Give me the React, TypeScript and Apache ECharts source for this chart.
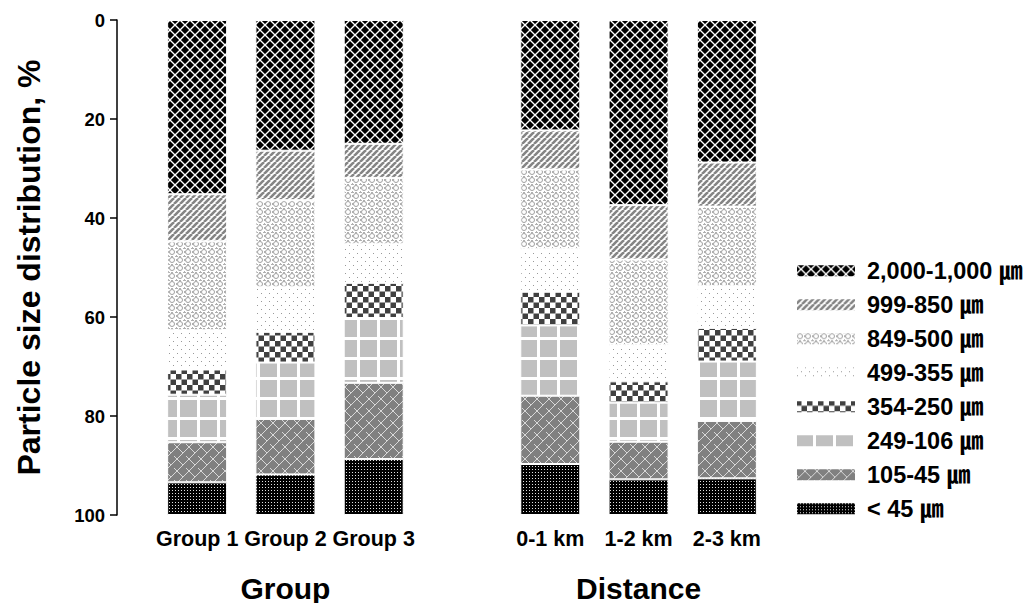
import React, { useEffect, useRef } from "react";
import * as echarts from "echarts";

const categories = ["Group 1", "Group 2", "Group 3", "", "0-1 km", "1-2 km", "2-3 km"];
const groupLabels = ["", "Group", "", "", "", "Distance", ""];
const sizeClasses = [
  "2,000-1,000 ㎛",
  "999-850 ㎛",
  "849-500 ㎛",
  "499-355 ㎛",
  "354-250 ㎛",
  "249-106 ㎛",
  "105-45 ㎛",
  "< 45 ㎛",
];
const s2000_1000 = [35.2, 26.4, 25.0, null, 22.3, 37.4, 28.8];
const s999_850 = [9.5, 10.0, 6.9, null, 7.9, 11.0, 8.9];
const s849_500 = [18.0, 17.6, 13.4, null, 16.1, 17.3, 16.1];
const s499_355 = [7.9, 9.0, 7.8, null, 8.6, 7.3, 8.4];
const s354_250 = [5.1, 6.2, 7.1, null, 6.8, 4.3, 6.8];
const s249_106 = [9.6, 11.4, 13.1, null, 14.2, 7.9, 12.0];
const s105_45 = [8.1, 11.2, 15.4, null, 13.8, 7.6, 11.6];
const sLt45 = [6.6, 8.2, 11.3, null, 10.3, 7.2, 7.4];
const seriesValues = [s2000_1000, s999_850, s849_500, s499_355, s354_250, s249_106, s105_45, sLt45];
const yTicks = { min: 0, max: 100, interval: 20 };

const FONT = 'Arial, "Liberation Sans", "Noto Sans CJK KR", sans-serif';

function makeCanvas(w: number, h: number, draw: (ctx: CanvasRenderingContext2D) => void) {
  const c = document.createElement("canvas");
  c.width = w;
  c.height = h;
  const ctx = c.getContext("2d")!;
  draw(ctx);
  return c;
}

function buildPatterns() {
  const p1 = makeCanvas(10, 10, (ctx) => {
    ctx.fillStyle = "#000";
    ctx.fillRect(0, 0, 10, 10);
    ctx.strokeStyle = "#fff";
    ctx.lineWidth = 1.3;
    for (const o of [-10, 0, 10]) {
      ctx.beginPath();
      ctx.moveTo(o, 0);
      ctx.lineTo(o + 10, 10);
      ctx.stroke();
      ctx.beginPath();
      ctx.moveTo(o + 10, 0);
      ctx.lineTo(o, 10);
      ctx.stroke();
    }
  });
  const p2 = makeCanvas(6, 6, (ctx) => {
    ctx.fillStyle = "#fff";
    ctx.fillRect(0, 0, 6, 6);
    ctx.strokeStyle = "#858585";
    ctx.lineWidth = 2.6;
    for (const o of [-6, 0, 6]) {
      ctx.beginPath();
      ctx.moveTo(o, 6);
      ctx.lineTo(o + 6, 0);
      ctx.stroke();
    }
  });
  const p3 = makeCanvas(8, 8, (ctx) => {
    ctx.fillStyle = "#fff";
    ctx.fillRect(0, 0, 8, 8);
    ctx.strokeStyle = "#a0a0a0";
    ctx.lineWidth = 1;
    ctx.beginPath();
    ctx.arc(4, 4, 2.5, 0, Math.PI * 2);
    ctx.stroke();
    ctx.fillStyle = "#b0b0b0";
    ctx.fillRect(0, 0, 2, 1);
    ctx.fillRect(7, 0, 1, 1);
    ctx.fillRect(0, 7, 1, 1);
    ctx.fillRect(3, 0, 2, 1);
    ctx.fillRect(0, 3, 1, 2);
  });
  const p4 = makeCanvas(8, 8, (ctx) => {
    ctx.fillStyle = "#fff";
    ctx.fillRect(0, 0, 8, 8);
    ctx.fillStyle = "#999";
    ctx.fillRect(1, 1, 1, 1);
    ctx.fillRect(5, 5, 1, 1);
  });
  const p5 = makeCanvas(11, 11, (ctx) => {
    ctx.fillStyle = "#fff";
    ctx.fillRect(0, 0, 11, 11);
    ctx.fillStyle = "#404040";
    ctx.fillRect(0, 0, 5.5, 5.5);
    ctx.fillRect(5.5, 5.5, 5.5, 5.5);
  });
  const p6 = makeCanvas(20, 20, (ctx) => {
    ctx.fillStyle = "#fff";
    ctx.fillRect(0, 0, 20, 20);
    ctx.fillStyle = "#c0c0c0";
    ctx.fillRect(0, 0, 17, 17);
  });
  const p7 = makeCanvas(12, 12, (ctx) => {
    ctx.fillStyle = "#808080";
    ctx.fillRect(0, 0, 12, 12);
    ctx.strokeStyle = "#d8d8d8";
    ctx.lineWidth = 1;
    for (const o of [-12, 0, 12]) {
      ctx.beginPath();
      ctx.moveTo(o, 12);
      ctx.lineTo(o + 12, 0);
      ctx.stroke();
    }
    ctx.beginPath();
    ctx.moveTo(3, 9);
    ctx.lineTo(0, 6);
    ctx.stroke();
    ctx.beginPath();
    ctx.moveTo(9, 3);
    ctx.lineTo(6, 0);
    ctx.stroke();
    ctx.beginPath();
    ctx.moveTo(12, 6);
    ctx.lineTo(9, 3);
    ctx.stroke();
  });
  const p8 = makeCanvas(3, 3, (ctx) => {
    ctx.fillStyle = "#000";
    ctx.fillRect(0, 0, 3, 3);
    ctx.fillStyle = "#e0e0e0";
    ctx.fillRect(1, 1, 1, 1);
  });
  return [p1, p2, p3, p4, p5, p6, p7, p8];
}

export default function App() {
  const ref = useRef<HTMLDivElement>(null);
  useEffect(() => {
    if (!ref.current) return;
    const chart = echarts.init(ref.current, null, { renderer: "svg" });
    const patterns = buildPatterns();
    const series = sizeClasses.map((name, i) => ({
      name,
      type: "bar",
      stack: "total",
      barWidth: 60,
      xAxisIndex: 0,
      data: seriesValues[i],
      itemStyle: {
        color: { image: patterns[i], repeat: "repeat" },
        borderColor: "#fff",
        borderWidth: 1,
      },
    }));
    chart.setOption({
      animation: false,
      backgroundColor: "#fff",
      textStyle: { fontFamily: FONT },
      grid: { left: 153, right: 256, top: 20, bottom: 86, containLabel: false },
      legend: {
        orient: "vertical",
        left: 790,
        top: 254,
        itemWidth: 60,
        itemHeight: 13,
        itemGap: 10.5,
        icon: "rect",
        selectedMode: false,
        textStyle: { fontSize: 23.5, fontWeight: "bold", color: "#000", fontFamily: FONT, padding: [0, 0, 0, 6] },
        data: sizeClasses,
      },
      xAxis: [
        {
          type: "category",
          data: categories,
          axisLine: { show: false },
          axisTick: { show: false },
          axisLabel: { interval: 0, fontSize: 21.5, fontWeight: "bold", color: "#000", margin: 13, fontFamily: FONT },
        },
        {
          type: "category",
          data: groupLabels,
          position: "bottom",
          offset: 44,
          axisLine: { show: false },
          axisTick: { show: false },
          axisLabel: { interval: 0, fontSize: 30, fontWeight: "bold", color: "#000", margin: 14, fontFamily: FONT },
        },
      ],
      yAxis: {
        type: "value",
        inverse: true,
        min: yTicks.min,
        max: yTicks.max,
        interval: yTicks.interval,
        offset: 36,
        name: "Particle size distribution, %",
        nameLocation: "middle",
        nameRotate: 90,
        nameGap: 72,
        nameTextStyle: { fontSize: 32, fontWeight: "bold", color: "#000", fontFamily: FONT },
        axisLine: { show: true, lineStyle: { color: "#000", width: 1.5 } },
        axisTick: { show: true, length: 7, lineStyle: { color: "#000", width: 1.5 } },
        splitLine: { show: false },
        axisLabel: { fontSize: 18.5, fontWeight: "bold", color: "#000", margin: 12, fontFamily: FONT },
      },
      series,
    });
    return () => chart.dispose();
  }, []);
  return (
    <div
      ref={ref}
      style={{ position: "fixed", left: 0, top: 0, width: 1027, height: 603, background: "#fff" }}
    />
  );
}
